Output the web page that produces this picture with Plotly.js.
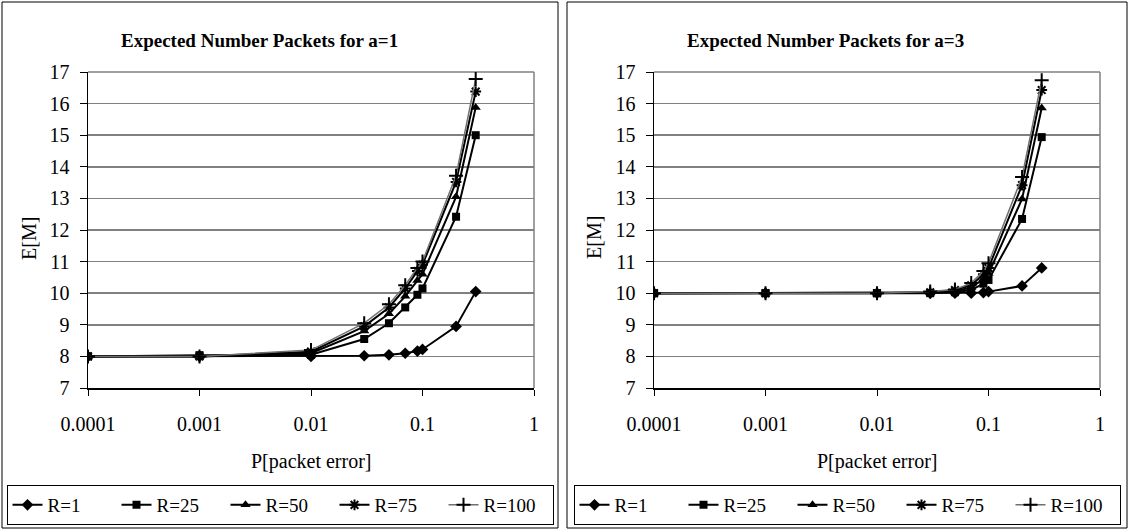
<!DOCTYPE html>
<html>
<head>
<meta charset="utf-8">
<script src="https://cdn.plot.ly/plotly-3.0.1.min.js"></script>
<style>
  html, body { margin: 0; padding: 0; background: #ffffff; }
  #chart { width: 1129px; height: 531px; }
</style>
</head>
<body>
<div id="chart"></div>
<script>
// Packet error probabilities (shared x values)
const pError = [0.0001, 0.001, 0.01, 0.03, 0.05, 0.07, 0.09, 0.1, 0.2, 0.3];

// Expected number of packets, a = 1
const a1_R1   = [8.00, 8.00, 8.00, 8.02, 8.05, 8.10, 8.17, 8.22, 8.95, 10.05];
const a1_R25  = [8.00, 8.04, 8.05, 8.55, 9.05, 9.55, 9.95, 10.15, 12.42, 15.00];
const a1_R50  = [8.00, 8.00, 8.10, 8.80, 9.35, 9.90, 10.40, 10.60, 13.05, 15.88];
const a1_R75  = [8.00, 8.00, 8.15, 8.95, 9.55, 10.15, 10.70, 10.90, 13.52, 16.38];
const a1_R100 = [8.00, 8.00, 8.20, 9.05, 9.65, 10.25, 10.80, 11.00, 13.72, 16.78];

// Expected number of packets, a = 3
const a3_R1   = [10.00, 10.00, 10.00, 10.00, 10.00, 10.00, 10.02, 10.05, 10.23, 10.80];
const a3_R25  = [10.00, 10.00, 10.00, 10.00, 10.03, 10.10, 10.30, 10.42, 12.35, 14.94];
const a3_R50  = [10.00, 10.00, 10.00, 10.02, 10.06, 10.18, 10.45, 10.62, 12.98, 15.86];
const a3_R75  = [10.00, 10.00, 10.00, 10.03, 10.10, 10.25, 10.60, 10.80, 13.42, 16.43];
const a3_R100 = [10.00, 10.00, 10.00, 10.05, 10.12, 10.32, 10.70, 10.95, 13.68, 16.74];

const seriesNames = ['R=1', 'R=25', 'R=50', 'R=75', 'R=100'];
const xTickVals = [0.0001, 0.001, 0.01, 0.1, 1];
const xTickText = ['0.0001', '0.001', '0.01', '0.1', '1'];
const chartTitles = ['Expected Number Packets for a=1', 'Expected Number Packets for a=3'];
const xTitle = 'P[packet error]';
const yTitle = 'E[M]';

const W = 1129, H = 531;
const px = v => v / W;
const py = v => 1 - v / H;

const SERIF = "'Liberation Serif', 'Times New Roman', serif";

// marker / line styling per series
const styles = [
  { symbol: 'diamond',          size: 9,  color: '#000000', lw: 2 },
  { symbol: 'square',           size: 8,  color: '#000000', lw: 2 },
  { symbol: 'triangle-up',      size: 9,  color: '#000000', lw: 2 },
  { symbol: 'asterisk-open',    size: 9,  color: '#000000', lw: 2 },
  { symbol: 'cross-thin-open',  size: 10, color: '#707070', lw: 1.5 }
];

function makeTraces(data, xa, ya, legendId) {
  return data.map((ys, i) => {
    const s = styles[i];
    return {
      type: 'scatter',
      mode: 'lines+markers',
      x: pError,
      y: ys,
      xaxis: xa,
      yaxis: ya,
      name: seriesNames[i],
      legend: legendId,
      line: { color: s.color, width: s.lw },
      marker: {
        symbol: s.symbol,
        size: s.size,
        color: '#000000',
        line: { color: '#000000', width: (s.symbol.indexOf('open') >= 0) ? 2 : 0 }
      }
    };
  });
}

const traces = []
  .concat(makeTraces([a1_R1, a1_R25, a1_R50, a1_R75, a1_R100], 'x', 'y', 'legend'))
  .concat(makeTraces([a3_R1, a3_R25, a3_R50, a3_R75, a3_R100], 'x2', 'y2', 'legend2'));

// plot-area geometry (pixels)
const plotTop = 72, plotBottom = 388;
const leftPlot = [88, 534];
const rightPlot = [654, 1100];

function xAxis(domain, anchor) {
  return {
    type: 'log',
    domain: domain,
    anchor: anchor,
    range: [-4, 0],
    tickvals: xTickVals,
    ticktext: xTickText,
    showgrid: false,
    zeroline: false,
    showline: true,
    linecolor: '#000000',
    linewidth: 1.5,
    ticks: 'outside',
    ticklen: 6,
    tickwidth: 1,
    tickcolor: '#000000',
    ticklabelstandoff: 11,
    tickfont: { family: SERIF, size: 20, color: '#000000' }
  };
}

function yAxis(domain, anchor) {
  return {
    domain: domain,
    anchor: anchor,
    range: [7, 17],
    dtick: 1,
    tick0: 7,
    showgrid: true,
    gridcolor: '#808080',
    gridwidth: 1.5,
    zeroline: false,
    showline: true,
    linecolor: '#000000',
    linewidth: 1.5,
    ticks: 'outside',
    ticklen: 7,
    tickwidth: 1,
    tickcolor: '#000000',
    ticklabelstandoff: 6,
    tickfont: { family: SERIF, size: 20, color: '#000000' }
  };
}

const yDomain = [py(plotBottom), py(plotTop)];

const boxes = [[2, 558], [567, 1127]];
const shapes = [];
boxes.forEach(b => {
  shapes.push({
    type: 'rect', xref: 'paper', yref: 'paper',
    x0: px(b[0]), x1: px(b[1]), y0: py(528), y1: py(2),
    line: { color: '#000000', width: 1 }, layer: 'below'
  });
});
// gray right and top edges of both plot areas
[leftPlot, rightPlot].forEach(p => {
  shapes.push({
    type: 'line', xref: 'paper', yref: 'paper',
    x0: px(p[1]), x1: px(p[1]), y0: py(plotBottom), y1: py(plotTop),
    line: { color: '#808080', width: 1.5 }, layer: 'below'
  });
  shapes.push({
    type: 'line', xref: 'paper', yref: 'paper',
    x0: px(p[0]), x1: px(p[1]), y0: py(plotTop), y1: py(plotTop),
    line: { color: '#808080', width: 1.5 }, layer: 'below'
  });
});

const annotations = [
  { text: '<b>' + chartTitles[0] + '</b>', x: px(259), y: py(40), xref: 'paper', yref: 'paper',
    xanchor: 'center', yanchor: 'middle', showarrow: false,
    font: { family: SERIF, size: 19, color: '#000000' } },
  { text: '<b>' + chartTitles[1] + '</b>', x: px(825), y: py(40), xref: 'paper', yref: 'paper',
    xanchor: 'center', yanchor: 'middle', showarrow: false,
    font: { family: SERIF, size: 19, color: '#000000' } },
  { text: xTitle, x: px((leftPlot[0] + leftPlot[1]) / 2), y: py(461), xref: 'paper', yref: 'paper',
    xanchor: 'center', yanchor: 'middle', showarrow: false,
    font: { family: SERIF, size: 20, color: '#000000' } },
  { text: xTitle, x: px((rightPlot[0] + rightPlot[1]) / 2), y: py(461), xref: 'paper', yref: 'paper',
    xanchor: 'center', yanchor: 'middle', showarrow: false,
    font: { family: SERIF, size: 20, color: '#000000' } },
  { text: yTitle, x: px(29), y: py(238), xref: 'paper', yref: 'paper', textangle: -90,
    xanchor: 'center', yanchor: 'middle', showarrow: false,
    font: { family: SERIF, size: 20, color: '#000000' } },
  { text: yTitle, x: px(594), y: py(238), xref: 'paper', yref: 'paper', textangle: -90,
    xanchor: 'center', yanchor: 'middle', showarrow: false,
    font: { family: SERIF, size: 20, color: '#000000' } }
];

function legendBox(cx) {
  return {
    orientation: 'h',
    x: px(cx), xanchor: 'center',
    y: py(505), yanchor: 'middle',
    bordercolor: '#000000',
    borderwidth: 1,
    bgcolor: '#ffffff',
    font: { family: SERIF, size: 19, color: '#000000' },
    itemwidth: 30,
    entrywidth: 64,
    entrywidthmode: 'pixels',
    tracegroupgap: 0,
    itemclick: false
  };
}

const layout = {
  width: W,
  height: H,
  autosize: false,
  margin: { l: 0, r: 0, t: 0, b: 0, pad: 0 },
  paper_bgcolor: '#ffffff',
  plot_bgcolor: '#ffffff',
  showlegend: true,
  xaxis: xAxis([px(leftPlot[0]), px(leftPlot[1])], 'y'),
  yaxis: yAxis(yDomain, 'x'),
  xaxis2: xAxis([px(rightPlot[0]), px(rightPlot[1])], 'y2'),
  yaxis2: yAxis(yDomain, 'x2'),
  legend: legendBox(280),
  legend2: legendBox(847),
  shapes: shapes,
  annotations: annotations
};

Plotly.newPlot('chart', traces, layout, { displayModeBar: false, staticPlot: true });
</script>
</body>
</html>
